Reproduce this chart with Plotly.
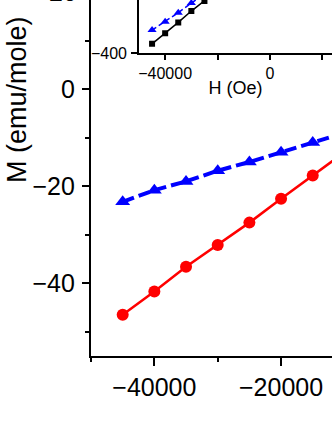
import plotly.graph_objects as go

# main panel
H = [-45000, -40000, -35000, -30000, -25000, -20000, -15000, -10000]
M_red = [-46.5, -41.7, -36.6, -32.1, -27.5, -22.6, -17.8, -13.0]
M_blue = [-23.2, -20.8, -19.0, -16.8, -15.0, -13.0, -11.0, -9.0]

# inset
H_in = [-45000, -40000, -35000, -30000, -25000, -20000]
M_black_in = [-364, -324, -283, -240, -202, -162]
M_blue_in = [-312, -280, -246, -210, -175, -140]

FONT = "Liberation Sans, Arial, sans-serif"

fig = go.Figure()
fig.add_trace(go.Scatter(x=H, y=M_red, mode="lines+markers",
                         line=dict(color="#ff0000", width=2.5),
                         marker=dict(symbol="circle", size=12, color="#ff0000"),
                         xaxis="x", yaxis="y", showlegend=False))
fig.add_trace(go.Scatter(x=H, y=M_blue, mode="lines+markers",
                         line=dict(color="#0000ff", width=4, dash="12px,5px"),
                         marker=dict(symbol="triangle-up", size=13, color="#0000ff"),
                         xaxis="x", yaxis="y", showlegend=False))
fig.add_trace(go.Scatter(x=H_in, y=M_black_in, mode="lines+markers",
                         line=dict(color="black", width=1.5),
                         marker=dict(symbol="square", size=6, color="black"),
                         xaxis="x2", yaxis="y2", showlegend=False))
fig.add_trace(go.Scatter(x=H_in[:len(M_blue_in)], y=M_blue_in, mode="lines+markers",
                         line=dict(color="#0000ff", width=1.5, dash="5px,3px"),
                         marker=dict(symbol="triangle-up", size=8, color="#0000ff"),
                         xaxis="x2", yaxis="y2", showlegend=False))

axis_common = dict(showgrid=False, zeroline=False, showline=True, linecolor="black",
                   ticks="outside", tickcolor="black", automargin=False, tickformat="d",
                   tickfont=dict(family=FONT, color="black"))

fig.update_layout(
    width=332, height=430,
    margin=dict(l=91, r=0, t=0, b=74),
    paper_bgcolor="white", plot_bgcolor="white",
    font=dict(family=FONT, color="black"),
    xaxis=dict(**axis_common, domain=[0, 1], range=[-50000, -11960],
               tickmode="linear", tick0=0, dtick=20000, linewidth=2.3, ticklen=8, tickwidth=2,
               tickfont_size=25,
               minor=dict(dtick=10000, ticklen=4, tickwidth=2, ticks="outside", tickcolor="black"),
               anchor="y"),
    yaxis=dict(**axis_common, domain=[0, 1], range=[-55, 18.4],
               tickmode="linear", tick0=0, dtick=20, linewidth=2.3, ticklen=7, tickwidth=2,
               tickfont_size=25, ticklabelstandoff=2,
               minor=dict(dtick=10, ticklen=4, tickwidth=2, ticks="outside", tickcolor="black"),
               anchor="x"),
    xaxis2=dict(**axis_common, domain=[0.199, 1], range=[-50000, 23700],
                tickmode="linear", tick0=0, dtick=40000, linewidth=1.5, ticklen=5, tickwidth=1.5,
                tickfont_size=16,
                minor=dict(dtick=20000, ticklen=5, tickwidth=1.5, ticks="outside", tickcolor="black"),
                title=dict(text="H (Oe)", font=dict(size=18), standoff=0),
                anchor="y2"),
    yaxis2=dict(**axis_common, domain=[0.85, 1], range=[-400, -198.3],
                tickmode="linear", tick0=0, dtick=400, linewidth=1.5, ticklen=6, tickwidth=1.5,
                tickfont_size=16, ticklabelstandoff=1,
                anchor="x2"),
)

fig.add_annotation(text="M (emu/mole)", textangle=-90, xref="paper", yref="paper",
                   x=-0.31, y=0.72, xanchor="center", yanchor="middle", showarrow=False,
                   font=dict(size=27, family=FONT, color="black"))
# top tick label, mostly cut off by the frame
fig.add_annotation(text="20", xref="paper", yref="paper", x=-0.05, y=1.0216,
                   xanchor="right", yanchor="middle", showarrow=False,
                   font=dict(size=25, family=FONT, color="black"))

fig.write_html("out.html", config={"displayModeBar": False},
               post_script="document.body.style.margin='0';")
